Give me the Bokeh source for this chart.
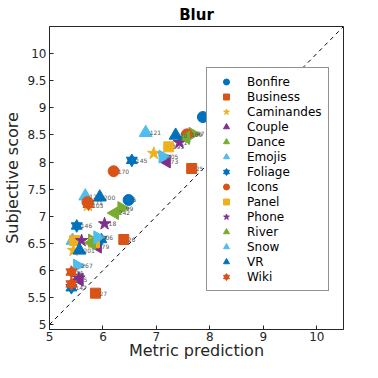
from bokeh.plotting import figure
from bokeh.models import Legend, LegendItem, FixedTicker, Range1d, ColumnDataSource
from bokeh.embed import file_html
from bokeh.resources import INLINE
from bokeh.core.properties import value
import math

names = ["Bonfire", "Business", "Caminandes", "Couple", "Dance", "Emojis", "Foliage",
         "Icons", "Panel", "Phone", "River", "Snow", "VR", "Wiki"]
colors = ["#0072BD", "#D95319", "#EDB120", "#7E2F8E", "#77AC30", "#4DBEEE", "#0072BD",
          "#D95319", "#EDB120", "#7E2F8E", "#77AC30", "#4DBEEE", "#0072BD", "#D95319"]
shapes = ["circle", "square", "star", "left", "right", "up", "hexagram",
          "circle", "square", "star", "left", "right", "up", "hexagram"]

bonfire_x = [7.87, 6.48]
bonfire_y = [8.83, 7.30]
bonfire_l = ["", "5"]
business_x = [7.66, 6.39, 5.86]
business_y = [7.88, 6.57, 5.58]
business_l = ["25", "26", "27"]
caminandes_x = [6.95, 5.72, 5.45]
caminandes_y = [8.16, 7.20, 6.37]
caminandes_l = ["9", "103", ""]
couple_x = [7.19, 5.90, 5.56]
couple_y = [8.01, 6.44, 5.83]
couple_l = ["73", "79", "5"]
dance_x = [7.68, 6.35, 5.80]
dance_y = [8.52, 7.15, 6.55]
dance_l = ["97", "99", ""]
emojis_x = [6.80, 5.67, 5.43]
emojis_y = [8.54, 7.37, 6.55]
emojis_l = ["121", "122", ""]
foliage_x = [6.54, 5.51, 5.97, 5.41]
foliage_y = [8.03, 6.82, 6.57, 5.68]
foliage_l = ["145", "146", "", "147"]
icons_x = [7.57, 6.20, 5.71]
icons_y = [8.51, 7.83, 7.26]
icons_l = ["169", "170", "171"]
panel_x = [7.23, 5.47, 5.84]
panel_y = [8.28, 6.55, 6.51]
panel_l = ["193", "1", ""]
phone_x = [7.43, 6.03, 5.60, 5.55]
phone_y = [8.36, 6.86, 6.55, 5.86]
phone_l = ["17", "18", "", ""]
river_x = [7.55, 6.22, 5.79]
river_y = [8.45, 7.06, 6.51]
river_l = ["", "242", ""]
snow_x = [7.12, 5.90, 5.52]
snow_y = [8.10, 6.61, 6.09]
snow_l = ["205", "206", "267"]
vr_x = [7.36, 5.94, 5.56]
vr_y = [8.49, 7.35, 6.37]
vr_l = ["20", "200", "201"]
wiki_x = [5.73, 5.41, 5.41]
wiki_y = [7.22, 5.97, 5.75]
wiki_l = ["", "14", ""]

series = [(bonfire_x, bonfire_y, bonfire_l), (business_x, business_y, business_l),
          (caminandes_x, caminandes_y, caminandes_l), (couple_x, couple_y, couple_l),
          (dance_x, dance_y, dance_l), (emojis_x, emojis_y, emojis_l),
          (foliage_x, foliage_y, foliage_l), (icons_x, icons_y, icons_l),
          (panel_x, panel_y, panel_l), (phone_x, phone_y, phone_l),
          (river_x, river_y, river_l), (snow_x, snow_y, snow_l),
          (vr_x, vr_y, vr_l), (wiki_x, wiki_y, wiki_l)]

diag = [5, 10.5]
x_ticks = [5, 6, 7, 8, 9, 10]
y_ticks = [5, 5.5, 6, 6.5, 7, 7.5, 8, 8.5, 9, 9.5, 10]

FONT = "DejaVu Sans"

p = figure(width=362, height=362, output_backend="svg", toolbar_location=None,
           x_range=Range1d(5, 10.5), y_range=Range1d(4.91, 10.5),
           min_border_left=46, min_border_right=19, min_border_top=26, min_border_bottom=30,
           title="Blur")
p.title.align = "center"
p.title.text_font = FONT
p.title.text_font_size = "15px"
p.title.text_font_style = "bold"
p.title.text_color = "#000000"
p.title.standoff = 5
p.title.offset = 0
p.grid.visible = False
p.outline_line_color = "#262626"
p.background_fill_color = "white"
p.border_fill_color = "white"

for ax in [p.xaxis[0], p.yaxis[0]]:
    ax.major_tick_in = 4
    ax.major_tick_out = 0
    ax.minor_tick_line_color = None
    ax.axis_line_color = "#262626"
    ax.major_tick_line_color = "#262626"
    ax.major_label_text_font = FONT
    ax.major_label_text_font_size = "12px"
    ax.major_label_text_color = "#262626"
    ax.axis_label_text_font = FONT
    ax.axis_label_text_font_size = "16px"
    ax.axis_label_text_font_style = "normal"
    ax.axis_label_text_color = "#262626"
p.xaxis[0].major_label_standoff = 2
p.xaxis[0].axis_label_standoff = -3
p.yaxis[0].major_label_standoff = 3
p.yaxis[0].axis_label_standoff = 2
p.xaxis[0].ticker = FixedTicker(ticks=x_ticks)
p.yaxis[0].ticker = FixedTicker(ticks=y_ticks)
p.xaxis[0].axis_label = "Metric prediction"
p.yaxis[0].axis_label = "Subjective score"

p.line(diag, diag, line_color="black", line_dash="4 4", line_width=1)

items = []
for name, col, shp, (xs, ys, ls) in zip(names, colors, shapes, series):
    src = ColumnDataSource(dict(x=xs, y=ys, l=ls))
    rs = []
    if shp == "circle":
        rs.append(p.scatter("x", "y", source=src, marker="circle", size=11, color=col))
    elif shp == "square":
        rs.append(p.scatter("x", "y", source=src, marker="square", size=10, color=col))
    elif shp == "star":
        rs.append(p.scatter("x", "y", source=src, marker="star", size=13, color=col))
    elif shp == "left":
        rs.append(p.scatter("x", "y", source=src, marker="triangle", size=13, angle=math.pi / 2, color=col))
    elif shp == "right":
        rs.append(p.scatter("x", "y", source=src, marker="triangle", size=13, angle=-math.pi / 2, color=col))
    elif shp == "up":
        rs.append(p.scatter("x", "y", source=src, marker="triangle", size=13, color=col))
    elif shp == "hexagram":
        rs.append(p.scatter("x", "y", source=src, marker="triangle", size=11, color=col))
        rs.append(p.scatter("x", "y", source=src, marker="inverted_triangle", size=11, color=col))
    p.text("x", "y", text="l", source=src, x_offset=4, text_font=value(FONT),
           text_font_size="6px", text_color="#555555", text_baseline="middle")
    items.append(LegendItem(label=name, renderers=rs))

legend = Legend(items=items, location=(157, 38))
legend.label_text_font = FONT
legend.label_text_font_size = "12px"
legend.label_text_color = "#000000"
legend.label_height = 15
legend.glyph_height = 15
legend.glyph_width = 26
legend.spacing = 0
legend.padding = 6
legend.margin = 0
legend.label_standoff = 8
legend.border_line_color = "#262626"
legend.border_line_width = 1
legend.background_fill_alpha = 1
p.add_layout(legend, "center")

open("out.html", "w").write(file_html(p, INLINE))
